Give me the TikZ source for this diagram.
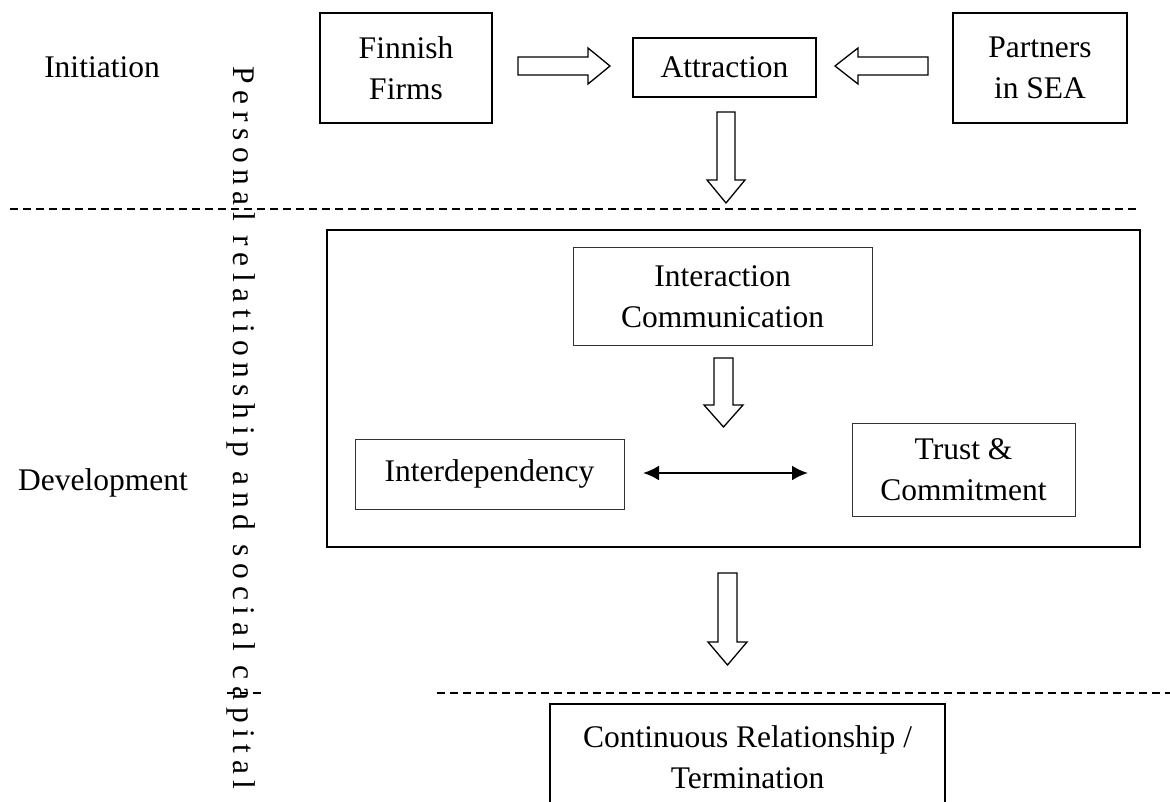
\documentclass[tikz,border=0pt]{standalone}
\usepackage{fontspec}
\setmainfont{Liberation Serif}
\newfontfamily\spacedfont[LetterSpace=21]{Liberation Serif}
\usetikzlibrary{arrows.meta}
\begin{document}
\begin{tikzpicture}[x=1pt,y=-1pt,
  txt/.style={font=\fontsize{31.5}{41}\selectfont, inner sep=0pt, align=center},
  thickbox/.style={txt, draw, line width=2pt},
  thinbox/.style={txt, draw=black!80, line width=1pt},
  framebox/.style={draw, line width=2pt, inner sep=0pt},
  blockarrow/.style={draw, line width=1.3pt, fill=white, line join=miter},
  phaseline/.style={line width=1.2pt, dash pattern=on 8pt off 5pt},
  bothways/.style={line width=2.4pt, {Latex[length=16pt,width=15pt]}-{Latex[length=16pt,width=15pt]}}
]
\useasboundingbox (0,0) rectangle (1170,802);
\clip (0,0) rectangle (1170,802);

% phase labels
\node[txt, anchor=base] (init) at (102,78) {Initiation};
\node[txt, anchor=base] (dev) at (103,490) {Development};

% vertical text
\node[rotate=-90, inner sep=0pt, font=\spacedfont\fontsize{31.5}{41}\selectfont] (pers) at (241,428) {Personal relationship and social capital};

% dashed phase lines
\coordinate (l1a) at (10,209);
\coordinate (l1b) at (1140,209);
\draw[phaseline] (l1a) -- (l1b);
\coordinate (l2a) at (437,693);
\coordinate (l2b) at (1170,693);
\draw[phaseline] (l2a) -- (l2b);
\coordinate (l3a) at (227,693);
\coordinate (l3b) at (264,693);
\draw[phaseline] (l3a) -- (l3b);

% initiation boxes
\node[thickbox, minimum width=172pt, minimum height=110pt] (finnish) at (406,68) {Finnish\\Firms};
\node[thickbox, minimum width=183pt, minimum height=59pt] (attr) at (724.5,67.5) {Attraction};
\node[thickbox, minimum width=174pt, minimum height=110pt] (partners) at (1040,68) {Partners\\in SEA};

% block arrows
\draw[blockarrow] (518,57) -- (588,57) -- (588,48) -- (610,66) -- (588,84) -- (588,75) -- (518,75) -- cycle;
\draw[blockarrow] (928,57) -- (858,57) -- (858,48) -- (835,66) -- (858,84) -- (858,75) -- (928,75) -- cycle;
\draw[blockarrow] (717,112) -- (735,112) -- (735,180) -- (745,180) -- (726,203) -- (707,180) -- (717,180) -- cycle;

% development frame
\node[framebox, minimum width=813pt, minimum height=317pt] (devbox) at (733.5,388.5) {};
\node[thinbox, minimum width=299pt, minimum height=97pt] (inter) at (722.5,296.5) {Interaction\\Communication};
\draw[blockarrow] (714,358) -- (733,358) -- (733,405) -- (743,405) -- (723.5,427) -- (704,405) -- (714,405) -- cycle;
\node[thinbox, minimum width=269pt, minimum height=70pt] (interdep) at (489.5,474) {Interdependency};
\node[thinbox, minimum width=223pt, minimum height=93pt] (trust) at (963.5,469.5) {Trust \&\\Commitment};
\coordinate (da) at (643,473);
\coordinate (db) at (808,473);
\draw[bothways] (da) -- (db);

\draw[blockarrow] (718,573) -- (737,573) -- (737,642) -- (747,642) -- (727.5,665) -- (708,642) -- (718,642) -- cycle;

% outcome
\node[thickbox, minimum width=395pt, minimum height=120pt, anchor=north] (cont) at (747.5,703) {};
\node[txt] (conttxt) at (747.5,757) {Continuous Relationship /\\Termination};
\end{tikzpicture}
\end{document}
